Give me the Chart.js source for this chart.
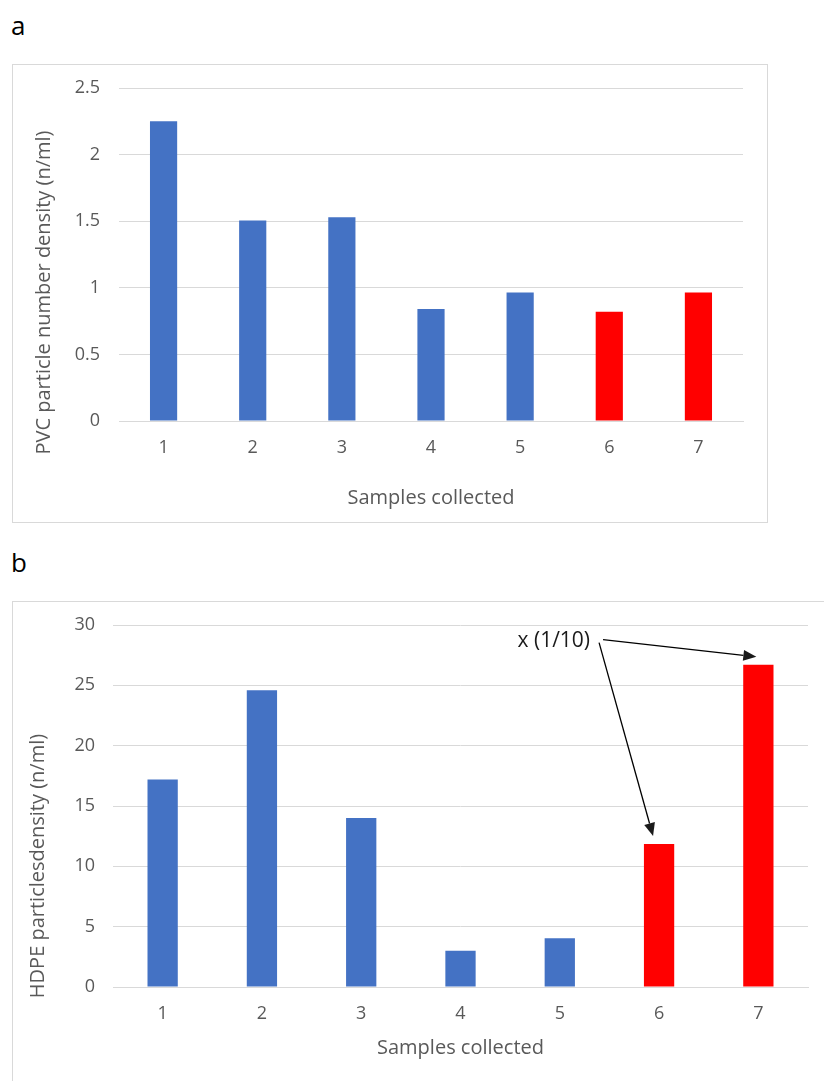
<!DOCTYPE html>
<html>
<head>
<meta charset="utf-8">
<script src="https://cdn.jsdelivr.net/npm/chart.js@4.4.1/dist/chart.umd.min.js"></script>
<style>
  html, body { margin: 0; padding: 0; background: #fff; }
  body { width: 824px; height: 1081px; overflow: hidden; position: relative; font-family: "Open Sans", sans-serif; }
  .panel-label { position: absolute; left: 11px; font-size: 26px; line-height: 1; color: #000; }
  .box { position: absolute; border: 1px solid #d9d9d9; box-sizing: border-box; }
  .box canvas { display: block; }
</style>
</head>
<body>
<div class="panel-label" style="top:12px">a</div>
<div class="box" style="left:12px; top:64px; width:756px; height:459px;">
  <canvas id="chartA" width="754" height="457"></canvas>
</div>
<div class="panel-label" style="top:549px">b</div>
<div class="box" style="left:12px; top:601px; width:830px; height:500px;">
  <canvas id="chartB" width="828" height="498"></canvas>
</div>

<script>
const samples = ['1', '2', '3', '4', '5', '6', '7'];
const pvcDensity = [2.25, 1.505, 1.53, 0.84, 0.965, 0.82, 0.965];
const hdpeDensity = [17.2, 24.6, 14.0, 3.0, 4.05, 11.85, 26.7];
const pvcTicks = [0, 0.5, 1, 1.5, 2, 2.5];
const hdpeTicks = [0, 5, 10, 15, 20, 25, 30];
const scaledNote = 'x (1/10)';

const BLUE = '#4472C4';
const RED = '#FF0000';
const GRID = '#d9d9d9';
const TEXT = '#595959';
const FONT = '"Open Sans", sans-serif';

// samples 6 and 7 are highlighted in red
const barColors = samples.map((s, i) => i >= 5 ? RED : BLUE);

// Excel puts the value axis title a bit lower than the plot centre, so draw it by hand
const yTitlePlugin = {
    id: 'yTitle',
    afterDraw(chart, args, opts) {
        const { ctx, chartArea } = chart;
        ctx.save();
        ctx.translate(opts.x, (chartArea.top + chartArea.bottom) / 2 + opts.shift);
        ctx.rotate(-Math.PI / 2);
        ctx.font = '20px ' + FONT;
        ctx.fillStyle = TEXT;
        ctx.textAlign = 'center';
        ctx.textBaseline = 'middle';
        ctx.fillText(opts.text, 0, 0);
        ctx.restore();
    }
};

function makeChart(canvas, values, ticks, o) {
    return new Chart(canvas, {
        type: 'bar',
        data: {
            labels: samples,
            datasets: [{
                data: values,
                backgroundColor: barColors,
                borderWidth: 0,
                categoryPercentage: 1,
                barPercentage: 0.305
            }]
        },
        options: {
            responsive: false,
            animation: false,
            layout: { padding: { left: 0, right: o.padRight, top: o.padTop, bottom: 0 } },
            plugins: {
                legend: { display: false },
                tooltip: { enabled: false },
                yTitle: { text: o.yTitle, x: o.yTitleX, shift: o.yTitleShift }
            },
            scales: {
                x: {
                    grid: { display: false, drawTicks: false },
                    border: { display: true, color: GRID, width: 1 },
                    ticks: { color: TEXT, padding: 16, font: { family: FONT, size: 18 } },
                    title: {
                        display: true,
                        text: 'Samples collected',
                        color: TEXT,
                        font: { family: FONT, size: 20 },
                        padding: { top: 0, bottom: o.xTitlePad }
                    },
                    afterFit: s => { s.height = o.xHeight; }
                },
                y: {
                    min: ticks[0],
                    max: ticks[ticks.length - 1],
                    afterBuildTicks: s => { s.ticks = ticks.map(v => ({ value: v })); },
                    grid: { color: GRID, lineWidth: 1, drawTicks: false },
                    border: { display: false },
                    ticks: {
                        color: TEXT,
                        padding: o.yTickPad,
                        font: { family: FONT, size: 18 },
                        callback: v => String(v)
                    },
                    afterFit: s => {
                        s.width = o.yWidth;
                        s.paddingTop = 0;
                        s.paddingBottom = 0;
                    }
                }
            }
        },
        plugins: [yTitlePlugin].concat(o.plugins || [])
    });
}

function drawArrow(ctx, x0, y0, x1, y1) {
    const ang = Math.atan2(y1 - y0, x1 - x0);
    const len = 13, half = 5.5;
    const bx = x1 - len * Math.cos(ang), by = y1 - len * Math.sin(ang);
    ctx.beginPath();
    ctx.moveTo(x0, y0);
    ctx.lineTo(bx, by);
    ctx.stroke();
    ctx.beginPath();
    ctx.moveTo(x1, y1);
    ctx.lineTo(bx + half * Math.sin(ang), by - half * Math.cos(ang));
    ctx.lineTo(bx - half * Math.sin(ang), by + half * Math.cos(ang));
    ctx.closePath();
    ctx.fill();
}

// "x (1/10)" note with arrows to samples 6 and 7
const notePlugin = {
    id: 'note',
    afterDraw(chart) {
        const { ctx, scales: { x, y } } = chart;
        const tx = x.getPixelForValue(4) - 6;
        const ty = y.getPixelForValue(28.7);
        ctx.save();
        ctx.font = '21px ' + FONT;
        ctx.fillStyle = '#1a1a1a';
        ctx.strokeStyle = '#000';
        ctx.lineWidth = 1.3;
        ctx.textAlign = 'center';
        ctx.textBaseline = 'middle';
        ctx.fillText(scaledNote, tx, ty);
        const right = tx + ctx.measureText(scaledNote).width / 2;
        drawArrow(ctx, right + 13, ty - 1, x.getPixelForValue(6) - 2, y.getPixelForValue(hdpeDensity[6]) - 8);
        drawArrow(ctx, right + 9, ty + 2, x.getPixelForValue(5) - 6, y.getPixelForValue(hdpeDensity[5]) - 8);
        ctx.restore();
    }
};

makeChart(document.getElementById('chartA'), pvcDensity, pvcTicks, {
    yTitle: 'PVC particle number density (n/ml)',
    yTitleX: 31, yTitleShift: 38,
    padTop: 23, padRight: 24,
    yWidth: 106, yTickPad: 19,
    xHeight: 101, xTitlePad: 12
});

makeChart(document.getElementById('chartB'), hdpeDensity, hdpeTicks, {
    yTitle: 'HDPE particlesdensity (n/ml)',
    yTitleX: 25, yTitleShift: 60,
    padTop: 23, padRight: 33,
    yWidth: 100, yTickPad: 18,
    xHeight: 113, xTitlePad: 40,
    plugins: [notePlugin]
});
</script>
</body>
</html>
